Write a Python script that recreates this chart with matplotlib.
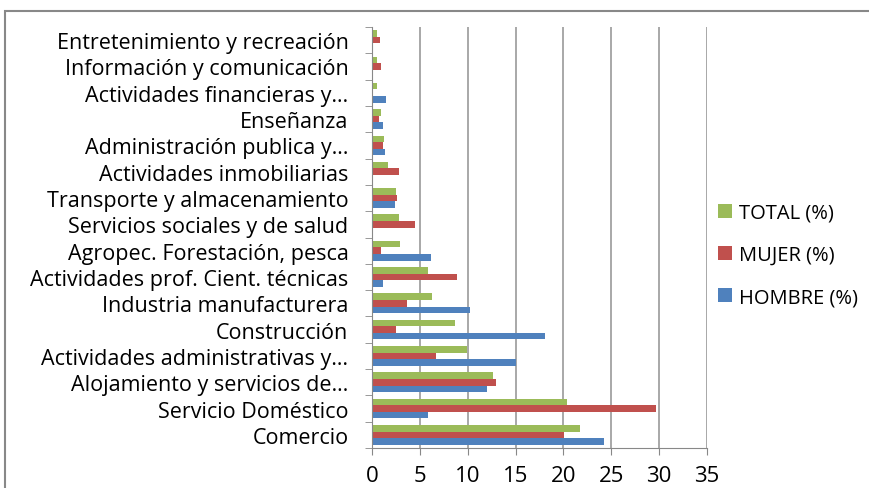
import matplotlib.pyplot as plt
from matplotlib.patches import Rectangle
import numpy as np

plt.rcParams['font.family'] = ['Open Sans', 'DejaVu Sans']

# categories bottom to top
categorias = ['Comercio', 'Servicio Doméstico', 'Alojamiento y servicios de…',
              'Actividades administrativas y…', 'Construcción', 'Industria manufacturera',
              'Actividades prof. Cient. técnicas', 'Agropec. Forestación, pesca',
              'Servicios sociales y de salud', 'Transporte y almacenamiento',
              'Actividades inmobiliarias', 'Administración publica y…', 'Enseñanza',
              'Actividades financieras y…', 'Información y comunicación',
              'Entretenimiento y recreación']
hombre = [24.2, 5.8, 12.0, 15.0, 18.1, 10.25, 1.15, 6.15, 0.0, 2.4, 0.0, 1.4, 1.15, 1.5, 0.0, 0.0]
mujer = [20.1, 29.7, 13.0, 6.67, 2.5, 3.65, 8.9, 0.94, 4.5, 2.65, 2.78, 1.15, 0.76, 0.0, 0.9, 0.8]
total = [21.7, 20.4, 12.65, 9.94, 8.7, 6.3, 5.9, 2.9, 2.8, 2.5, 1.67, 1.3, 0.9, 0.5, 0.5, 0.55]

fig = plt.figure(figsize=(8.7, 4.89), dpi=100)
# outer chart border
fig.patches.append(Rectangle((5/870, -0.1), 1.0, 1 - 12/489 + 0.1, transform=fig.transFigure,
                             fill=False, edgecolor='#888888', linewidth=1.5))
ax = fig.add_axes([372/870, 1 - 449/489, 335/870, 421/489])

y = np.arange(len(categorias))
h = 0.25
ax.barh(y - h, hombre, height=h, color='#4F81BD', label='HOMBRE (%)')
ax.barh(y, mujer, height=h, color='#C0504D', label='MUJER (%)')
ax.barh(y + h, total, height=h, color='#9BBB59', label='TOTAL (%)')

ax.set_xlim(0, 35)
ax.set_ylim(-0.5, len(categorias) - 0.5)
ax.set_xticks(range(0, 36, 5))
ax.set_yticks(y)
ax.set_yticklabels(categorias, fontsize=15.5)
ax.set_yticks(np.arange(-0.5, len(categorias), 1), minor=True)
ax.tick_params(axis='y', which='major', length=0, pad=17)
ax.tick_params(axis='y', which='minor', length=5, color='#888888')
ax.tick_params(axis='x', length=5, color='#888888', labelsize=16, pad=7)
ax.grid(axis='x', color='#999999', linewidth=1.2)
ax.set_axisbelow(True)
for s in ['top', 'right']:
    ax.spines[s].set_visible(False)
for s in ['left', 'bottom']:
    ax.spines[s].set_color('#888888')

handles, labels = ax.get_legend_handles_labels()
fig.legend(handles[::-1], labels[::-1], loc='center left', bbox_to_anchor=(702/870, 1 - 256/489),
           frameon=False, fontsize=14.5, handlelength=0.7, handleheight=0.7, labelspacing=1.1,
           handletextpad=0.35, borderpad=0.3)

fig.savefig('out.png')
